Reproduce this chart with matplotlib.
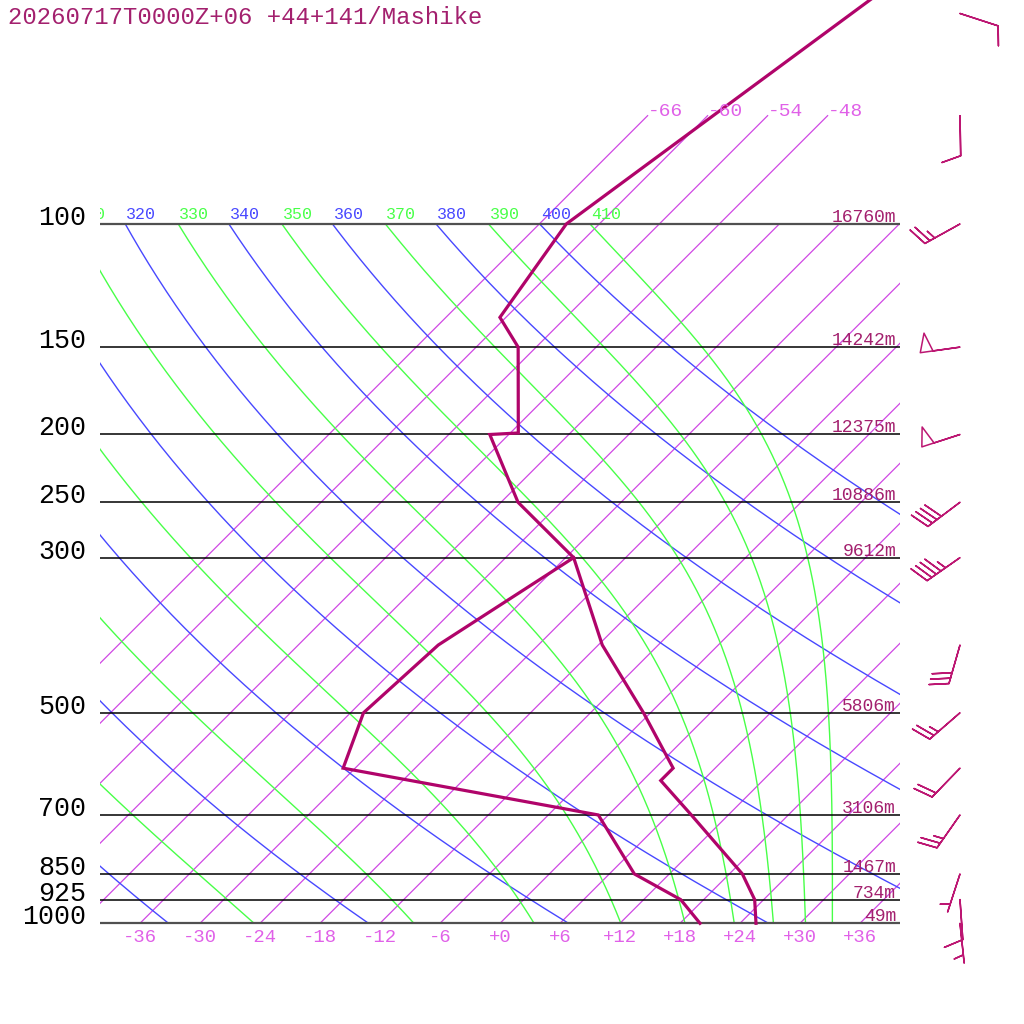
import numpy as np
import matplotlib
matplotlib.use("Agg")
import matplotlib.pyplot as plt
from matplotlib.transforms import Bbox, TransformedBbox

# ---------------- data ----------------
title = "20260717T0000Z+06 +44+141/Mashike"

temp_p = [1000, 925, 850, 700, 625, 600, 500, 400, 300, 250, 200, 199, 150, 136, 100, 30]
temp_c = [25.6, 23.1, 19.3, 8.3, 1.8, 1.8, -6.7, -17.6, -29.2, -40.3, -49.9, -47.2,
          -55.8, -60.6, -63.3, -50.3]

dewp_p = [1000, 925, 850, 700, 600, 500, 400, 300]
dewp_c = [20.0, 15.7, 8.5, -1.0, -31.2, -34.7, -34.0, -29.2]

level_p = [100, 150, 200, 250, 300, 500, 700, 850, 925, 1000]
level_hgt = ["16760m", "14242m", "12375m", "10886m", "9612m", "5806m",
             "3106m", "1467m", "734m", "49m"]

wind_p = [50, 70, 100, 150, 200, 250, 300, 400, 500, 600, 700, 850, 925, 1000]
wind_dir = [108, 179, 241, 262, 252, 233, 235, 196, 229, 224, 215, 198, 176, 174]
wind_kt = [10, 10, 25, 50, 50, 40, 45, 30, 25, 20, 25, 5, 10, 5]

isotherm_c = list(range(-66, 37, 6))
tick_c = list(range(-36, 37, 6))
top_label_c = [-66, -60, -54, -48]
dry_theta = list(range(240, 401, 20))
moist_thetae = list(range(250, 411, 20))

# ---------------- styling ----------------
K = 30.37            # skew factor (deg C per ln(1000/p))
FONT = "Liberation Mono"
c_prof = "#b0046a"
c_text = "#a3206e"
c_iso = "#d048e4"
c_iso_lbl = "#e060e8"
c_dry = "#4848ff"
c_moist = "#48ff48"


def skew(t, p):
    return np.asarray(t, float) + K * np.log(1000.0 / np.asarray(p, float))


def thetae_sat(tk, p):
    tc = tk - 273.15
    es = 6.112 * np.exp(17.67 * tc / (tc + 243.5))
    r = 622.0 * es / (p - es)
    return tk * (1000.0 / p) ** (0.2854 * (1 - 0.00028 * r)) * \
        np.exp((3.376 / tk - 0.00254) * r * (1 + 0.00081 * r))


def moist_T(the, p):
    lo = np.full_like(p, 150.0)
    hi = np.full_like(p, 330.0)
    for _ in range(60):
        mid = 0.5 * (lo + hi)
        f = thetae_sat(mid, p) - the
        hi = np.where(f > 0, mid, hi)
        lo = np.where(f > 0, lo, mid)
    return 0.5 * (lo + hi) - 273.15


fig = plt.figure(figsize=(10.24, 10.24), dpi=100)
ax = fig.add_axes([0, 0, 1, 1])
ax.set_yscale("log")
ax.set_xlim(-50, 52.4)
ax.set_ylim(1393.2, 47.83)
ax.axis("off")

clipbox = TransformedBbox(Bbox.from_extents(-40, 40, 40, 1000), ax.transData)


def clip(artist):
    artist.set_clip_on(True)
    artist.set_clip_box(clipbox)


pgrid = np.geomspace(1000, 100, 300)

# isotherms
for t in isotherm_c:
    ptop = 70 if t in top_label_c else 100
    pp = np.array([1000.0, ptop])
    ln, = ax.plot(skew([t, t], pp), pp, color=c_iso, lw=0.9)
    clip(ln)
    if t in top_label_c:
        ax.text(skew(t, ptop), ptop, str(t),
                fontfamily=FONT, fontsize=14, color=c_iso_lbl, ha="left", va="baseline")

for t in tick_c:
    ax.annotate(f"{t:+d}", (skew(t, 1000), 1000), xytext=(0, -14), textcoords="offset pixels",
                fontfamily=FONT, fontsize=13.6, color=c_iso_lbl, ha="center", va="center")

# dry adiabats
for th in dry_theta:
    tt = th * (pgrid / 1000.0) ** 0.2857 - 273.15
    ln, = ax.plot(skew(tt, pgrid), pgrid, color=c_dry, lw=1.0)
    clip(ln)
    txt = ax.annotate(str(th), (skew(tt[-1], 100), 100), xytext=(1, 5), textcoords="offset pixels",
                      fontfamily=FONT, fontsize=12, color=c_dry, ha="left", va="baseline")
    clip(txt)

# moist adiabats
for the in moist_thetae:
    tt = moist_T(the, pgrid)
    ln, = ax.plot(skew(tt, pgrid), pgrid, color=c_moist, lw=1.0)
    clip(ln)
    txt = ax.annotate(str(the), (skew(tt[-1], 100), 100), xytext=(1, 5), textcoords="offset pixels",
                      fontfamily=FONT, fontsize=12, color=c_moist, ha="left", va="baseline")
    clip(txt)

# pressure levels
for p, h in zip(level_p, level_hgt):
    edge = p in (100, 1000)
    ax.plot([-40, 40], [p, p], color="#505050" if edge else "black",
            lw=1.6 if edge else 1.1, solid_capstyle="butt")
    ax.annotate(str(p), (-41.4, p), xytext=(0, -1), textcoords="offset pixels",
                fontfamily=FONT, fontsize=19.2, color="black", ha="right", va="baseline")
    ax.annotate(h, (39.6, p), xytext=(0, 2), textcoords="offset pixels",
                fontfamily=FONT, fontsize=13, color=c_text, ha="right", va="baseline")

# profiles
ax.plot(skew(dewp_c, dewp_p), dewp_p, color=c_prof, lw=2.3, solid_joinstyle="miter", clip_on=False)
ax.plot(skew(temp_c, temp_p), temp_p, color=c_prof, lw=2.3, solid_joinstyle="miter", clip_on=False)

# wind barbs
wd = np.deg2rad(wind_dir)
spd = np.asarray(wind_kt, float)
u = -spd * np.sin(wd)
v = -spd * np.cos(wd)
ax.barbs(np.full(len(wind_p), 46.0), wind_p, u, v, length=7.6, pivot="tip",
         barbcolor="#bc1672", flagcolor="none", linewidth=1.1,
         sizes=dict(spacing=0.14, height=0.47, width=0.32, emptybarb=0.0), clip_on=False)

fig.text(8 / 1024, 1 - 17 / 1024, title, fontfamily=FONT, fontsize=17.2, color=c_text,
         ha="left", va="center")

fig.savefig("out.png", dpi=100)
